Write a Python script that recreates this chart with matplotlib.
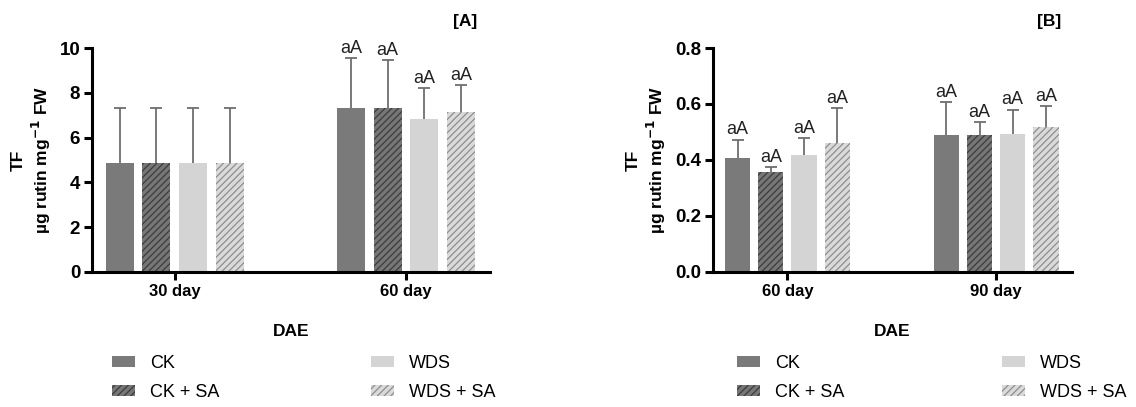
import numpy as np
import matplotlib
matplotlib.use('Agg')
import matplotlib.pyplot as plt

plt.rcParams['font.family'] = ['Liberation Sans', 'DejaVu Sans']
plt.rcParams['hatch.linewidth'] = 0.9

treatments = ['CK', 'CK + SA', 'WDS', 'WDS + SA']

# panel A
days_a = ['30 day', '60 day']
mean_a = {'CK': [4.85, 7.3], 'CK + SA': [4.85, 7.3], 'WDS': [4.85, 6.81], 'WDS + SA': [4.85, 7.15]}
top_a = {'CK': [7.32, 9.56], 'CK + SA': [7.32, 9.48], 'WDS': [7.32, 8.22], 'WDS + SA': [7.32, 8.35]}
letters_a = {'CK': ['', 'aA'], 'CK + SA': ['', 'aA'], 'WDS': ['', 'aA'], 'WDS + SA': ['', 'aA']}

# panel B
days_b = ['60 day', '90 day']
mean_b = {'CK': [0.407, 0.488], 'CK + SA': [0.357, 0.488], 'WDS': [0.417, 0.493], 'WDS + SA': [0.461, 0.516]}
top_b = {'CK': [0.473, 0.606], 'CK + SA': [0.374, 0.534], 'WDS': [0.477, 0.580], 'WDS + SA': [0.585, 0.592]}
letters_b = {t: ['aA', 'aA'] for t in treatments}

colors = {'CK': '#7a7a7a', 'CK + SA': '#767676', 'WDS': '#d4d4d4', 'WDS + SA': '#dadada'}
hatches = {'CK': None, 'CK + SA': '/////', 'WDS': None, 'WDS + SA': '/////'}
hatch_cols = {'CK': '#7a7a7a', 'CK + SA': '#3c3c3c', 'WDS': '#d4d4d4', 'WDS + SA': '#8e8e8e'}


def panel(ax, days, mean, top, letters, ymax, yticks, fmt, tag, off):
    x = np.arange(len(days))
    w = 0.121
    step = 0.159
    handles = []
    for i, t in enumerate(treatments):
        pos = x + (i - 1.5) * step
        m = np.array(mean[t])
        e = np.array(top[t]) - m
        b = ax.bar(pos, m, w, color=colors[t], hatch=hatches[t], edgecolor=hatch_cols[t],
                   linewidth=0, label=t, zorder=2)
        handles.append(b)
        eb = ax.errorbar(pos, m, yerr=[np.zeros_like(e), e], fmt='none', ecolor='#6e6e6e',
                         elinewidth=1.3, capsize=4.5, capthick=1.3, zorder=1)
        eb[1][0].set_visible(False)  # no cap on the lower side
        for p, tp, lab in zip(pos, top[t], letters[t]):
            if lab:
                ax.text(p, tp + off, lab, ha='center', va='bottom', fontsize=13, color='#222222')
    ax.set_xlim(-0.358, 1.362)
    ax.set_ylim(0, ymax)
    ax.set_yticks(yticks)
    ax.set_yticklabels([fmt.format(v) for v in yticks], fontsize=13.5, fontweight='bold')
    ax.set_xticks(x)
    ax.set_xticklabels(days, fontsize=12, fontweight='bold')
    for s in ['top', 'right']:
        ax.spines[s].set_visible(False)
    for s in ['left', 'bottom']:
        ax.spines[s].set_linewidth(2.2)
    ax.tick_params(axis='both', width=2.2, length=5.5, pad=3)
    ax.set_ylabel('TF\nµg rutin mg$^{\\mathbf{-1}}$ FW', fontsize=12.5, fontweight='bold', labelpad=5)
    ax.set_xlabel('DAE', fontsize=12.5, fontweight='bold', labelpad=18)
    ax.text(tag[1], 1.12, tag[0], transform=ax.transAxes, ha='right', va='center',
            fontsize=12.5, fontweight='bold')
    return handles


fig = plt.figure(figsize=(11.36, 4.07), dpi=100)
ax1 = fig.add_axes([0.081, 0.332, 0.350, 0.550])
ax2 = fig.add_axes([0.6274, 0.332, 0.316, 0.550])

h1 = panel(ax1, days_a, mean_a, top_a, letters_a, 10, [0, 2, 4, 6, 8, 10], '{:.0f}', ('[A]', 0.97), 0.05)
h2 = panel(ax2, days_b, mean_b, top_b, letters_b, 0.8, [0, 0.2, 0.4, 0.6, 0.8], '{:.1f}', ('[B]', 0.972), 0.005)

for h, x0, cs in [(h1, 112 / 1136, 8.4), (h2, 737 / 1136, 8.7)]:
    fig.legend(h, treatments, loc='upper left', bbox_to_anchor=(x0, 1 - 355 / 407),
               ncol=2, frameon=False, fontsize=13, handlelength=1.28, handleheight=0.55,
               handletextpad=0.83, columnspacing=cs, labelspacing=0.67, borderpad=0,
               borderaxespad=0)

fig.savefig('out.png', dpi=100)
